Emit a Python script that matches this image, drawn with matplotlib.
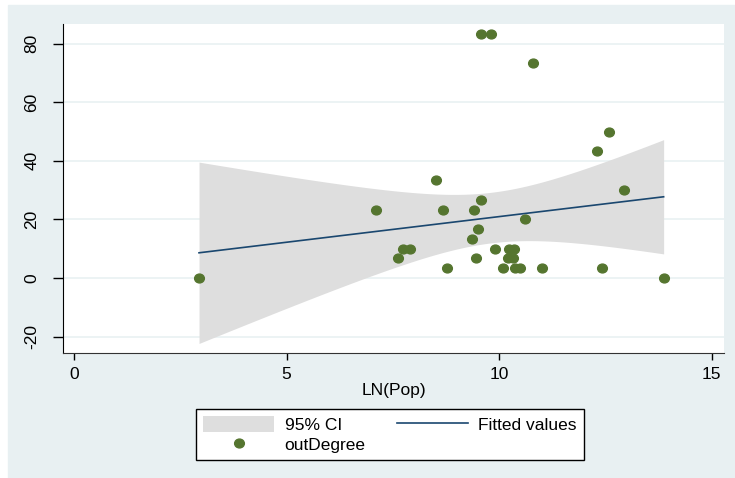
import numpy as np
import matplotlib
matplotlib.use('Agg')
import matplotlib.pyplot as plt
from matplotlib.patches import Rectangle, Patch
from matplotlib.lines import Line2D
from matplotlib.path import Path
from matplotlib.transforms import Affine2D

plt.rcParams['font.family'] = ['Liberation Sans', 'DejaVu Sans']

# log population vs out-degree (percent)
ln_pop = [2.94, 7.11, 7.62, 7.73, 7.91, 8.52, 8.67, 8.77, 9.36, 9.40,
          9.46, 9.51, 9.57, 9.57, 9.82, 9.91, 10.10, 10.21, 10.24, 10.32,
          10.34, 10.38, 10.49, 10.61, 10.79, 11.01, 12.31, 12.42, 12.58, 12.93,
          13.87]
out_degree = [0.0, 23.33, 6.67, 10.0, 10.0, 33.33, 23.33, 3.33, 13.33, 23.33,
              6.67, 16.67, 26.67, 83.33, 83.33, 10.0, 3.33, 6.67, 10.0, 6.67,
              10.0, 3.33, 3.33, 20.0, 73.33, 3.33, 43.33, 3.33, 50.0, 30.0,
              0.0]

x_ticks = [0, 5, 10, 15]
y_ticks = [-20, 0, 20, 40, 60, 80]

BG = '#e8f0f2'
BAND = '#dedede'
NAVY = '#1a476f'
GREEN = '#55752f'
FS = 12.5


def linear_fit_ci(x, y, t_crit=2.045, n_grid=200):
    """OLS fit with 95% confidence band for the mean."""
    x = np.asarray(x)
    y = np.asarray(y)
    n = len(x)
    slope, intercept = np.polyfit(x, y, 1)
    resid = y - (intercept + slope * x)
    s = np.sqrt(np.sum(resid ** 2) / (n - 2))
    xm = x.mean()
    sxx = np.sum((x - xm) ** 2)
    grid = np.linspace(x.min(), x.max(), n_grid)
    fit = intercept + slope * grid
    se = s * np.sqrt(1.0 / n + (grid - xm) ** 2 / sxx)
    return grid, fit, fit - t_crit * se, fit + t_crit * se


fig = plt.figure(figsize=(7.35, 4.78), dpi=100)
fig.patch.set_facecolor('white')
fig.patches.append(Rectangle((8 / 735, 0), 727 / 735, 473 / 478,
                             transform=fig.transFigure, color=BG, zorder=-5))

ax = fig.add_axes([63 / 735, 125 / 478, 661 / 735, 329 / 478])
ax.set_facecolor('white')

grid, fit, lo, hi = linear_fit_ci(ln_pop, out_degree)
ax.fill_between(grid, lo, hi, color=BAND, lw=0, zorder=2)
ax.plot(grid, fit, color=NAVY, lw=1.2, zorder=3)

# Stata markers come out slightly wider than tall
oval = Path.unit_circle().transformed(Affine2D().scale(1.1, 1.0))
ax.plot(ln_pop, out_degree, ls='none', marker=oval, markersize=7,
        color=GREEN, zorder=4)

ax.set_xlim(-0.26, 15.29)
ax.set_ylim(-25.6, 86.7)
ax.set_xticks(x_ticks)
ax.set_yticks(y_ticks)
ax.set_yticklabels([str(v) for v in y_ticks], rotation=90, va='center')
ax.tick_params(axis='both', labelsize=FS, width=1, color='black')
ax.tick_params(axis='y', length=7, pad=10)
ax.tick_params(axis='x', length=5, pad=5)
ax.yaxis.grid(True, color='#eaf2f3', lw=1.3, zorder=1)
ax.set_axisbelow(True)

for side in ['top', 'right']:
    ax.spines[side].set_visible(False)
ax.spines['left'].set_color('black')
ax.spines['bottom'].set_color('#333333')

ax.set_xlabel('LN(Pop)', fontsize=FS, labelpad=1)

handles = [Patch(facecolor=BAND, edgecolor='none'),
           Line2D([], [], ls='none', marker=oval, markersize=7, color=GREEN),
           Line2D([], [], color=NAVY, lw=1.2)]
labels = ['95% CI', 'outDegree', 'Fitted values']
leg = fig.legend(handles, labels, ncol=2, loc='center',
                 bbox_to_anchor=(390 / 735, 43.5 / 478), fontsize=FS,
                 frameon=True, fancybox=False, edgecolor='black',
                 facecolor='white', framealpha=1,
                 handlelength=4.1, handleheight=1.1, columnspacing=1.8,
                 labelspacing=0.2, borderpad=0.4, handletextpad=0.6)
leg.get_frame().set_linewidth(1.0)

fig.savefig('out.png', dpi=100)
